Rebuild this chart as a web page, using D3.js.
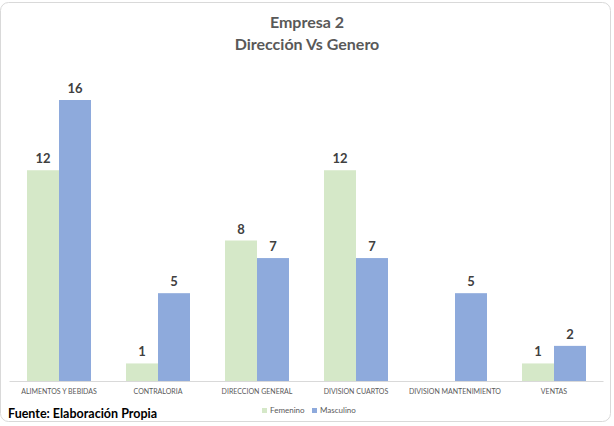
<!DOCTYPE html>
<html>
<head>
<meta charset="utf-8">
<script src="https://cdn.jsdelivr.net/npm/d3@7"></script>
<style>
  html, body { margin: 0; padding: 0; background: #ffffff; }
  svg { display: block; }
</style>
</head>
<body>
<svg id="chart" width="614" height="426"></svg>
<script>
// Chart data
const categories = ["ALIMENTOS Y BEBIDAS", "CONTRALORIA", "DIRECCION GENERAL", "DIVISION CUARTOS", "DIVISION MANTENIMIENTO", "VENTAS"];
const seriesNames = ["Femenino", "Masculino"];
const femenino = [12, 1, 8, 12, null, 1];
const masculino = [16, 5, 7, 7, 5, 2];
const titleLines = ["Empresa 2", "Dirección Vs Genero"];
const sourceNote = "Fuente: Elaboración Propia";

const colors = { Femenino: "#d5e8c8", Masculino: "#8eaadc" };
const font = "Lato, 'Open Sans', sans-serif";

const svg = d3.select("#chart");

// Outer chart frame
svg.append("rect")
  .attr("x", 0.5).attr("y", 2.5)
  .attr("width", 610).attr("height", 419)
  .attr("rx", 8).attr("ry", 8)
  .attr("fill", "#ffffff")
  .attr("stroke", "#d9d9d9")
  .attr("stroke-width", 1);

// Title
svg.append("g").selectAll("text")
  .data(titleLines)
  .join("text")
  .attr("x", 307)
  .attr("y", (d, i) => 28 + i * 22)
  .attr("text-anchor", "middle")
  .attr("font-family", font)
  .attr("font-weight", "bold")
  .attr("font-size", 16)
  .attr("fill", "#595959")
  .text(d => d);

// Scales
const baseline = 381;
const x0 = d3.scaleBand()
  .domain(categories)
  .range([9.5, 603.5])
  .paddingInner(35 / 99)
  .paddingOuter(35 / 198);

const x1 = d3.scaleBand()
  .domain(seriesNames)
  .range([0, x0.bandwidth()]);

const y = d3.scaleLinear()
  .domain([0, 16])
  .range([baseline, 100]);

const rows = categories.map((c, i) => ({
  category: c,
  values: [
    { series: "Femenino", value: femenino[i] },
    { series: "Masculino", value: masculino[i] }
  ]
}));

// Bars
const groups = svg.append("g").selectAll("g")
  .data(rows)
  .join("g")
  .attr("transform", d => `translate(${x0(d.category)},0)`);

groups.selectAll("rect")
  .data(d => d.values.filter(v => v.value != null))
  .join("rect")
  .attr("x", d => x1(d.series))
  .attr("y", d => y(d.value))
  .attr("width", x1.bandwidth())
  .attr("height", d => baseline - y(d.value))
  .attr("fill", d => colors[d.series]);

// Value labels
groups.selectAll("text")
  .data(d => d.values.filter(v => v.value != null))
  .join("text")
  .attr("x", d => x1(d.series) + x1.bandwidth() / 2)
  .attr("y", d => y(d.value) - 7)
  .attr("text-anchor", "middle")
  .attr("font-family", font)
  .attr("font-weight", "bold")
  .attr("font-size", 13)
  .attr("fill", "#404040")
  .text(d => d.value);

// Category axis
const xAxis = svg.append("g")
  .attr("transform", `translate(0,${baseline})`)
  .call(d3.axisBottom(x0).tickSize(0).tickPadding(8));
xAxis.select(".domain")
  .attr("stroke", "#d9d9d9")
  .attr("d", "M9.5,0.5H603.5");
xAxis.selectAll("text")
  .attr("font-family", font)
  .attr("font-size", 7)
  .attr("fill", "#595959");

// Legend
const legendItems = [
  { name: "Femenino", x: 262 },
  { name: "Masculino", x: 312 }
];
const legend = svg.append("g").selectAll("g")
  .data(legendItems)
  .join("g")
  .attr("transform", d => `translate(${d.x},408)`);
legend.append("rect")
  .attr("width", 5).attr("height", 5)
  .attr("fill", d => colors[d.name]);
legend.append("text")
  .attr("x", 8).attr("y", 5)
  .attr("font-family", font)
  .attr("font-size", 8)
  .attr("fill", "#595959")
  .text(d => d.name);

// Source note
svg.append("text")
  .attr("x", 8).attr("y", 418)
  .attr("font-family", font)
  .attr("font-weight", "bold")
  .attr("font-size", 12.5)
  .attr("fill", "#000000")
  .text(sourceNote);
</script>
</body>
</html>
